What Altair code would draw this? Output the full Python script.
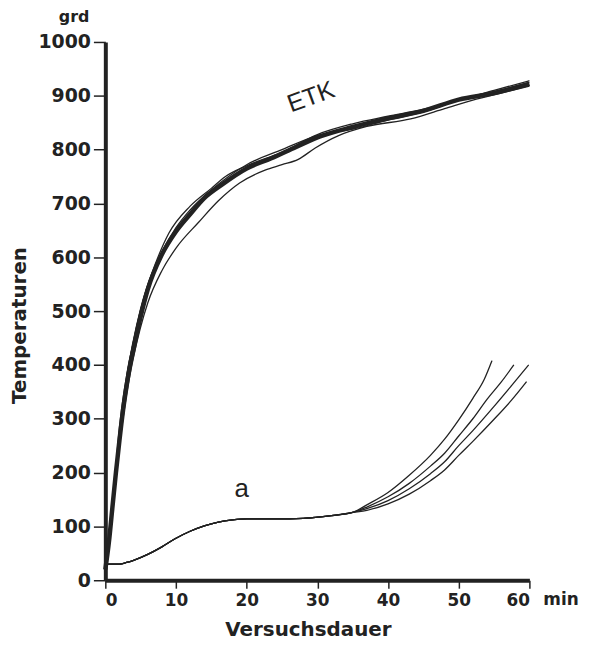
import altair as alt
import pandas as pd

# ETK group (Einheitstemperaturkurve and measured furnace curves)
etk_t = [0, 0.5, 1, 1.5, 2, 2.5, 3, 3.5, 4, 5, 6, 8, 10, 12, 14, 16.5, 20, 23.5, 27, 30.5, 35, 40, 45, 50, 55, 60]
etk_T = [20, 70, 135, 200, 260, 315, 360, 400, 430, 490, 540, 605, 648, 680, 710, 735, 765, 784, 805, 825, 842, 858, 872, 893, 905, 922]

low_t = [0, 1, 2, 3, 4, 6, 8, 10, 13.2, 16, 19, 22.6, 25, 27.3, 29.7, 33, 37, 43.2, 48, 52, 56, 60]
low_T = [20, 125, 250, 345, 415, 515, 575, 617, 665, 705, 738, 762, 772, 782, 803, 826, 843, 857, 876, 892, 905, 918]

up_t = [0, 1, 2, 3, 5, 7, 9, 12, 15, 17, 20, 25, 30, 35, 40, 45, 50, 55, 60]
up_T = [20, 140, 275, 375, 505, 585, 645, 695, 728, 750, 770, 795, 828, 848, 862, 875, 893, 908, 925]

mid_t = [0, 1, 2, 4, 6, 8, 10, 12, 15, 20, 25, 30, 35, 40, 45, 50, 55, 60]
mid_T = [20, 135, 285, 445, 548, 610, 655, 688, 725, 772, 800, 826, 838, 855, 870, 892, 910, 928]

# Curve group "a" (common part, then four branches)
a_common_t = [0, 1, 2, 3, 4, 6, 8, 10, 12, 14, 16, 18, 20, 24, 28, 32, 35]
a_common_T = [30, 30, 30, 33, 37, 48, 62, 78, 91, 101, 108, 112, 114, 114, 115, 120, 126]

a1_t = [37, 40, 43, 46, 48, 50, 52, 53.6, 54.7]
a1_T = [140, 163, 195, 232, 262, 298, 338, 373, 408]
a2_t = [37, 40, 43, 46, 48, 50, 52, 54, 56, 57.8]
a2_T = [136, 155, 180, 212, 236, 268, 300, 336, 368, 400]
a3_t = [37, 40, 43, 46, 48, 50, 52, 55, 57.5, 59.9]
a3_T = [133, 148, 170, 198, 220, 250, 278, 323, 362, 400]
a4_t = [37, 40, 43, 46, 48, 50, 52, 55, 57.5, 59.6]
a4_T = [130, 142, 160, 185, 205, 232, 258, 299, 335, 369]

x_ticks = [0, 10, 20, 30, 40, 50, 60]
y_ticks = [0, 100, 200, 300, 400, 500, 600, 700, 800, 900, 1000]

rows = []
def add(name, ts, Ts):
    for a, b in zip(ts, Ts):
        rows.append({"series": name, "t": a, "T": b})

add("ETK", etk_t, etk_T)
add("low", low_t, low_T)
add("up", up_t, up_T)
add("mid", mid_t, mid_T)
for i, (bt, bT) in enumerate([(a1_t, a1_T), (a2_t, a2_T), (a3_t, a3_T), (a4_t, a4_T)], start=1):
    add(f"a{i}", a_common_t + bt, a_common_T + bT)

df = pd.DataFrame(rows)

FONT = "DejaVu Sans"
INK = "#222222"

xs = alt.Scale(domain=[0, 60], nice=False)
ys = alt.Scale(domain=[0, 1000], nice=False)

xenc = alt.X("t:Q", scale=xs, axis=alt.Axis(
    values=x_ticks, format="d", title="Versuchsdauer", grid=False, domainWidth=4, domainColor=INK,
    tickColor=INK, tickWidth=1.5, tickSize=8, labelFont=FONT, labelFontWeight="bold",
    labelFontSize=17, labelColor=INK, labelPadding=4, titleFont=FONT, titleFontWeight="bold",
    titleFontSize=20, titleColor=INK, titleX=204, titleY=50, titleBaseline="middle",
    titleAlign="center"))
yenc = alt.Y("T:Q", scale=ys, axis=alt.Axis(
    values=y_ticks, format="d", title="Temperaturen", grid=False, domainWidth=4, domainColor=INK,
    tickColor=INK, tickWidth=1.5, tickSize=12, labelFont=FONT, labelFontWeight="bold",
    labelFontSize=19, labelColor=INK, labelPadding=3, titleFont=FONT, titleFontWeight="bold",
    titleFontSize=20, titleColor=INK, titleX=-86, titleY=285, titleAngle=270,
    titleBaseline="middle", titleAlign="center"))

base = alt.Chart(df)
thin = base.transform_filter(alt.datum.series != "ETK").mark_line(
    color=INK, strokeWidth=1.3, interpolate="monotone").encode(x=xenc, y=yenc, detail="series:N")
main = base.transform_filter(alt.datum.series == "ETK").mark_line(
    color=INK, strokeWidth=4.5, interpolate="monotone").encode(x="t:Q", y="T:Q")

labels_df = pd.DataFrame([
    {"t": 29.1, "T": 898, "txt": "ETK"},
])
etk_label = alt.Chart(labels_df).mark_text(font="Liberation Sans", fontSize=25, angle=340,
                                           color=INK).encode(x="t:Q", y="T:Q", text="txt:N")
a_df = pd.DataFrame([{"t": 19.3, "T": 170, "txt": "a"}])
a_label = alt.Chart(a_df).mark_text(font="Liberation Sans", fontSize=26, color=INK).encode(
    x="t:Q", y="T:Q", text="txt:N")
grd_df = pd.DataFrame([{"t": 0, "T": 1000, "txt": "grd"}])
grd_label = alt.Chart(grd_df).mark_text(font=FONT, fontWeight="bold", fontSize=16, color=INK,
                                        align="right", dx=-16, dy=-25).encode(
    x="t:Q", y="T:Q", text="txt:N")
min_df = pd.DataFrame([{"t": 60, "T": 0, "txt": "min"}])
min_label = alt.Chart(min_df).mark_text(font=FONT, fontWeight="bold", fontSize=17, color=INK,
                                        align="left", baseline="top", dx=14, dy=12).encode(
    x="t:Q", y="T:Q", text="txt:N")

chart = alt.layer(thin, main, etk_label, a_label, grd_label, min_label).properties(
    width=427, height=542,
    autosize=alt.AutoSizeParams(type="none"),
    padding={"left": 98, "top": 32, "right": 58, "bottom": 62},
).configure(background="white").configure_view(strokeWidth=0, stroke="transparent")

chart.save("out.html", embed_options={"renderer": "svg", "actions": False})
